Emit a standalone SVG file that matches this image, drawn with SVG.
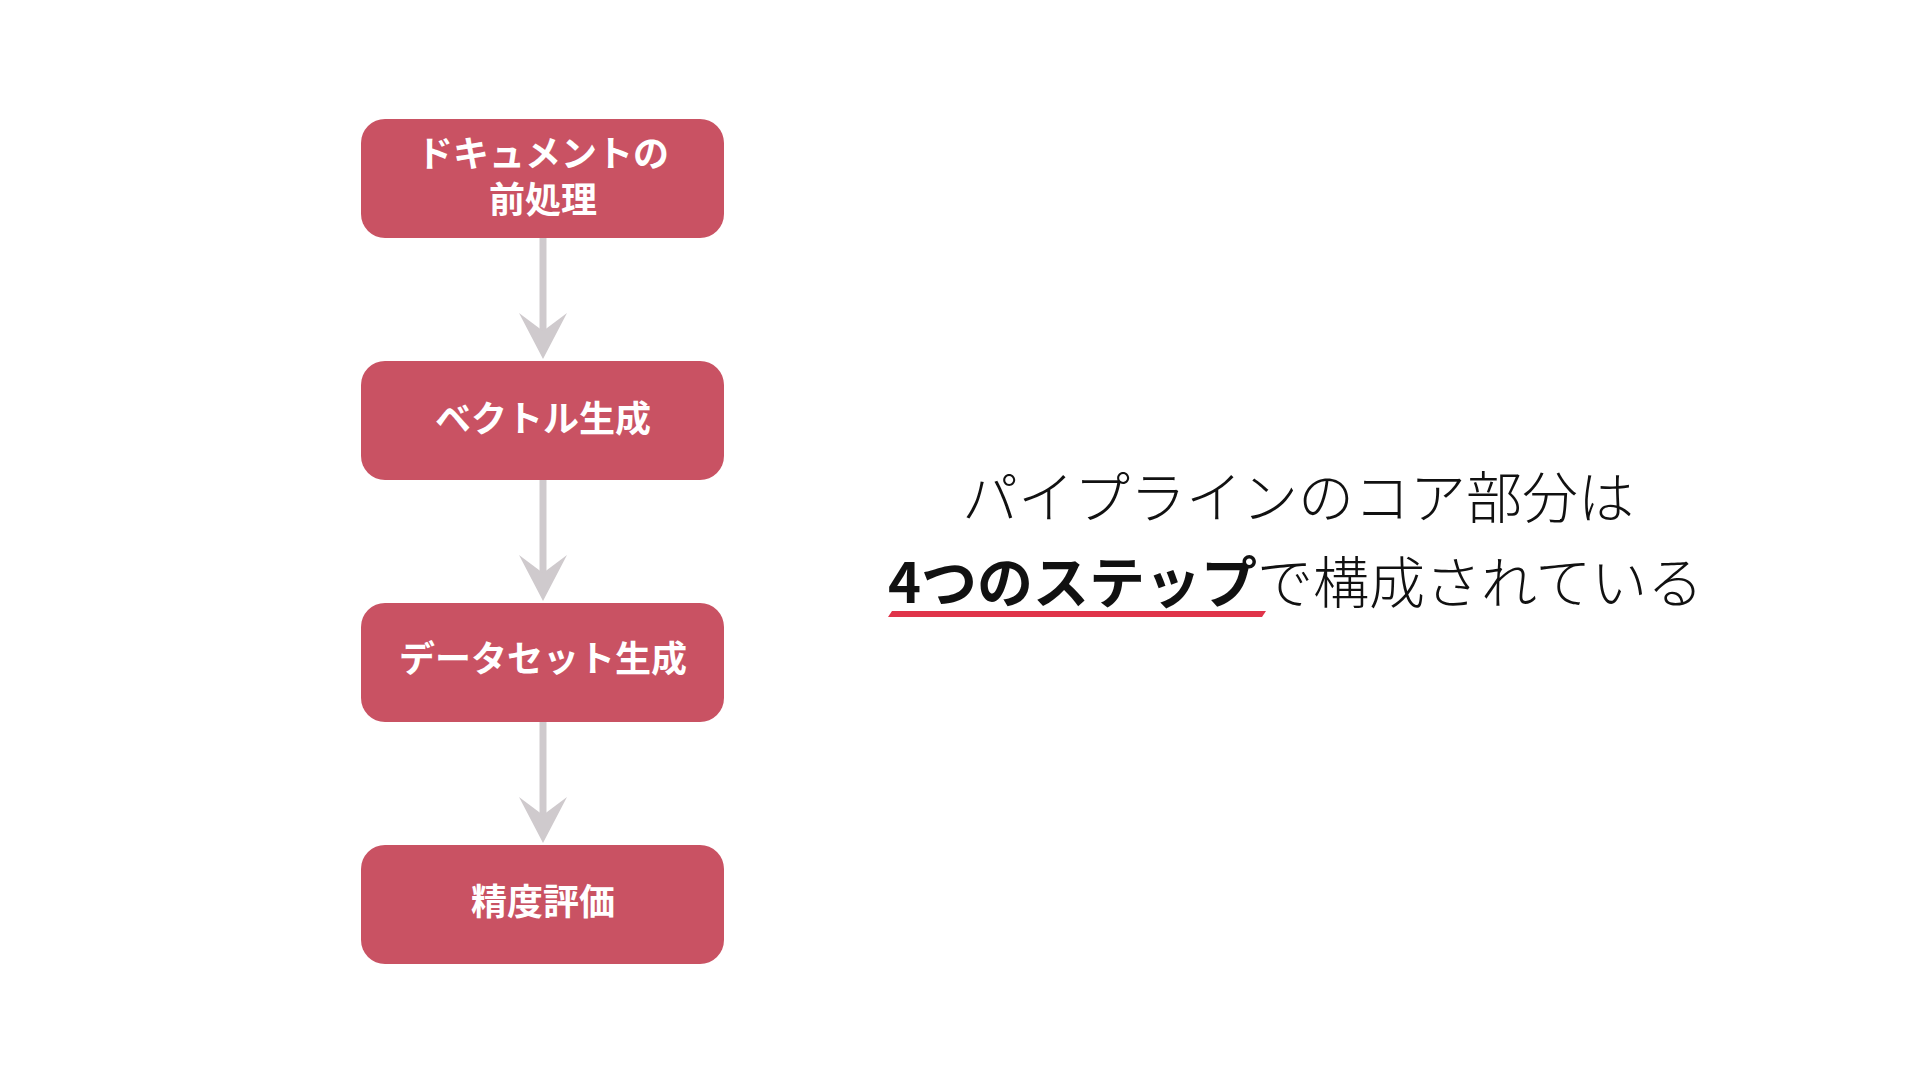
<svg xmlns="http://www.w3.org/2000/svg" xmlns:xlink="http://www.w3.org/1999/xlink" width="1920" height="1080" viewBox="0 0 1920 1080">
<style>
.box{fill:#c95263;}
.lbl{font-family:"Noto Sans CJK JP","Noto Sans",sans-serif;font-weight:700;font-size:36px;fill:#ffffff;text-anchor:middle;dominant-baseline:central;}
.conn{stroke:#cfcacd;stroke-width:7;fill:none;}
.head{fill:#cfcacd;}
.msg{font-family:"Noto Sans CJK JP","Noto Sans",sans-serif;font-size:56px;font-weight:300;fill:#111111;}
.bold{font-weight:700;}
</style>
<defs>
<path id="head" d="M0,0 L-24,-46 L0,-28 L24,-46 Z"/>
</defs>
<rect width="1920" height="1080" fill="#ffffff"/>
<g id="connectors">
<line class="conn" x1="543" y1="238" x2="543" y2="335"/>
<use href="#head" class="head" x="543" y="359"/>
<line class="conn" x1="543" y1="480" x2="543" y2="577"/>
<use href="#head" class="head" x="543" y="601"/>
<line class="conn" x1="543" y1="722" x2="543" y2="819"/>
<use href="#head" class="head" x="543" y="843"/>
</g>
<g id="node1">
<rect class="box" x="361" y="119" width="363" height="119" rx="24"/>
<text class="lbl" x="543" y="151"><tspan x="543" y="151">ドキュメントの</tspan><tspan x="543" y="197">前処理</tspan></text>
</g>
<g id="node2">
<rect class="box" x="361" y="361" width="363" height="119" rx="24"/>
<text class="lbl" x="543" y="416">ベクトル生成</text>
</g>
<g id="node3">
<rect class="box" x="361" y="603" width="363" height="119" rx="24"/>
<text class="lbl" x="543" y="656">データセット生成</text>
</g>
<g id="node4">
<rect class="box" x="361" y="845" width="363" height="119" rx="24"/>
<text class="lbl" x="543" y="899">精度評価</text>
</g>
<g id="message">
<text class="msg" x="1298" y="518" text-anchor="middle">パイプラインのコア部分は</text>
<polygon points="888,617 892,611 1266,611 1262,617" fill="#e0344a"/>
<text class="msg" x="888" y="603"><tspan class="bold">4つのステップ</tspan>で構成されている</text>
</g>
</svg>
